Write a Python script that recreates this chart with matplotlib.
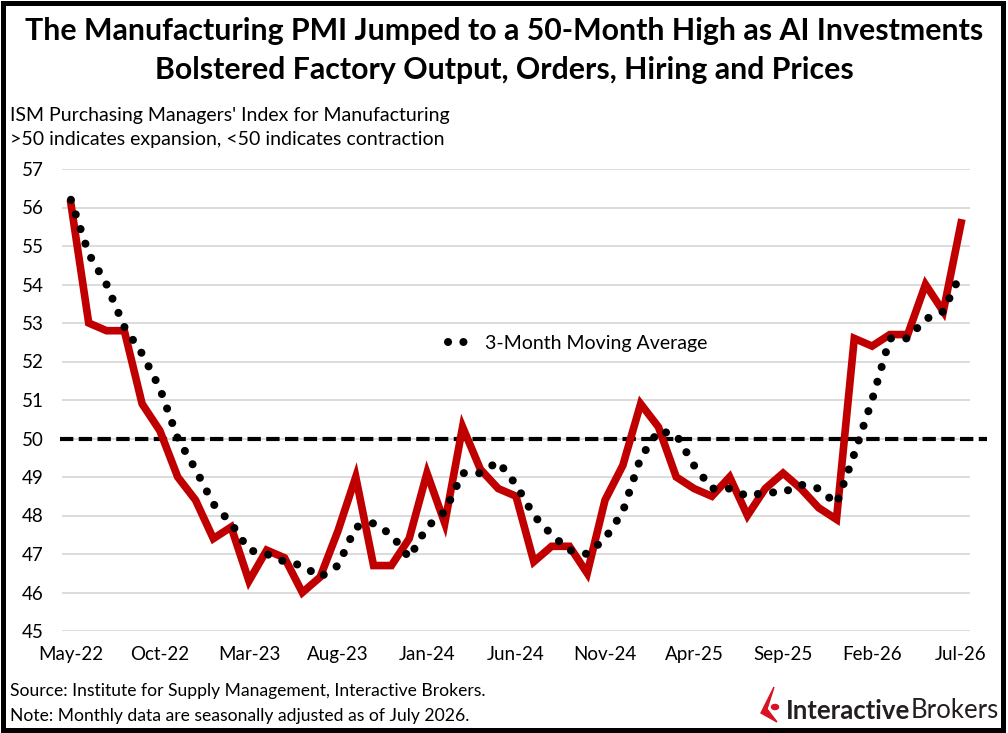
import matplotlib.pyplot as plt
from matplotlib.patches import Rectangle, Polygon, Circle

# ISM manufacturing PMI, May-22 .. Jul-26
months = [
    "May-22", "Jun-22", "Jul-22", "Aug-22", "Sep-22", "Oct-22", "Nov-22", "Dec-22",
    "Jan-23", "Feb-23", "Mar-23", "Apr-23", "May-23", "Jun-23", "Jul-23", "Aug-23",
    "Sep-23", "Oct-23", "Nov-23", "Dec-23", "Jan-24", "Feb-24", "Mar-24", "Apr-24",
    "May-24", "Jun-24", "Jul-24", "Aug-24", "Sep-24", "Oct-24", "Nov-24", "Dec-24",
    "Jan-25", "Feb-25", "Mar-25", "Apr-25", "May-25", "Jun-25", "Jul-25", "Aug-25",
    "Sep-25", "Oct-25", "Nov-25", "Dec-25", "Jan-26", "Feb-26", "Mar-26", "Apr-26",
    "May-26", "Jun-26", "Jul-26",
]
pmi = [
    56.1, 53.0, 52.8, 52.8, 50.9, 50.2, 49.0, 48.4,
    47.4, 47.7, 46.3, 47.1, 46.9, 46.0, 46.4, 47.6,
    49.0, 46.7, 46.7, 47.4, 49.1, 47.8, 50.3, 49.2,
    48.7, 48.5, 46.8, 47.2, 47.2, 46.5, 48.4, 49.3,
    50.9, 50.3, 49.0, 48.7, 48.5, 49.0, 48.0, 48.7,
    49.1, 48.7, 48.2, 47.9, 52.6, 52.4, 52.7, 52.7,
    54.0, 53.3, 55.6,
]
pmi_3m = [
    56.2, 54.8, 54.0, 52.9, 52.2, 51.3, 50.0, 49.2,
    48.3, 47.8, 47.1, 47.0, 46.8, 46.7, 46.4, 46.7,
    47.7, 47.8, 47.5, 46.9, 47.7, 48.1, 49.1, 49.1,
    49.4, 48.8, 48.0, 47.5, 47.1, 47.0, 47.4, 48.1,
    49.5, 50.2, 50.1, 49.3, 48.7, 48.7, 48.5, 48.6,
    48.6, 48.8, 48.7, 48.3, 49.6, 51.0, 52.6, 52.6,
    53.1, 53.3, 54.3,
]
threshold = 50
yticks = list(range(45, 58))

FONT = "Lato"
plt.rcParams["font.family"] = [FONT, "DejaVu Sans"]

W, H = 1008, 733
fig = plt.figure(figsize=(W / 100, H / 100), dpi=100)


def fx(px):
    return px / W


def fy(py):
    return 1 - py / H


ax = fig.add_axes([fx(62), fy(631), fx(970) - fx(62), fy(169) - fy(631)])

x = list(range(len(months)))
ax.plot(x, pmi, color="#C00000", lw=5.5, solid_joinstyle="miter", zorder=3)
ax.plot(x, pmi_3m, color="black", lw=5.8, linestyle=(0, (0.01, 1.9)),
        dash_capstyle="round", zorder=4, label="3-Month Moving Average")
ax.plot([-0.62, len(months) + 0.45], [threshold, threshold], color="black", lw=3,
        linestyle=(0, (3.2, 1.3)), clip_on=False, zorder=2)

ax.set_xlim(-0.5, len(months) - 0.5)
ax.set_ylim(45, 57)
ax.set_yticks(yticks)
ax.set_xticks(x[::5])
ax.set_xticklabels(months[::5])
ax.grid(axis="y", color="#d9d9d9", lw=1.3)
ax.set_axisbelow(True)
for s in ax.spines.values():
    s.set_visible(False)
ax.tick_params(axis="both", length=0, labelsize=13.5, colors="black")
ax.tick_params(axis="y", pad=13)
ax.tick_params(axis="x", pad=11)

ax.legend(loc="center left", bbox_to_anchor=(fx(448 - 62) / (fx(970) - fx(62)), (fy(343) - fy(631)) / (fy(169) - fy(631))),
          frameon=False, fontsize=14, handlelength=1.3, handletextpad=0.6,
          borderpad=0, borderaxespad=0)

# titles and notes
fig.text(0.5, fy(31), "The Manufacturing PMI Jumped to a 50-Month High as AI Investments",
         ha="center", va="center", fontsize=21.8, fontweight="bold")
fig.text(0.5, fy(70), "Bolstered Factory Output, Orders, Hiring and Prices",
         ha="center", va="center", fontsize=21.8, fontweight="bold")
fig.text(fx(10), fy(115), "ISM Purchasing Managers' Index for Manufacturing",
         ha="left", va="center", fontsize=14)
fig.text(fx(10), fy(140), ">50 indicates expansion, <50 indicates contraction",
         ha="left", va="center", fontsize=14)
fig.text(fx(10), fy(691), "Source: Institute for Supply Management, Interactive Brokers.",
         ha="left", va="center", fontsize=12.6)
fig.text(fx(10), fy(716), "Note: Monthly data are seasonally adjusted as of July 2026.",
         ha="left", va="center", fontsize=12.6)

# logo
fig.patches.append(Polygon([(fx(774), fy(687)), (fx(761), fy(713)), (fx(777), fy(722)), (fx(767), fy(709))],
                           closed=True, color="#d81222", transform=fig.transFigure))
fig.patches.append(Circle((fx(775), fy(707)), 0.0035, color="#d81222", transform=fig.transFigure))
t1 = fig.text(fx(786), fy(711), "Interactive", ha="left", va="center", fontsize=18.5,
              fontweight="bold", color="#231f20")
fig.canvas.draw()
bb = t1.get_window_extent()
fig.text(bb.x1 / W, fy(711), "Brokers", ha="left", va="center", fontsize=18.5, color="#231f20")

# frame
fig.patches.append(Rectangle((fx(2.5), fy(730)), fx(1003) - fx(2.5), fy(2.5) - fy(730),
                             fill=False, ec="black", lw=3.6, transform=fig.transFigure))

fig.savefig("out.png", dpi=100)
